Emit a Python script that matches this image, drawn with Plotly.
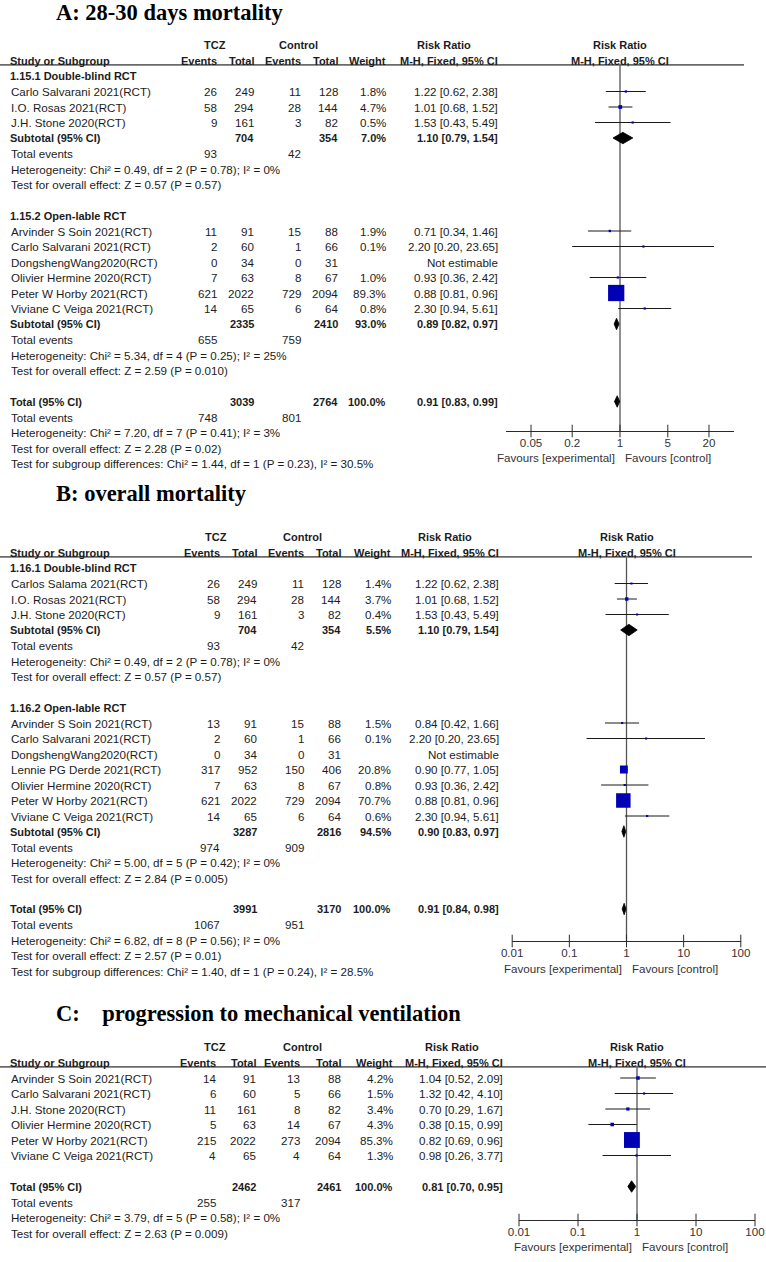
import math
import plotly.graph_objects as go

W, H = 766, 1262
SANS = "Liberation Sans, Arial, sans-serif"
SERIF = "Liberation Serif, Times New Roman, serif"
TXT = "#1c1c1c"
AXC = "#2a2a2a"
BLUE = "#0000b4"
SP = 15.5
FS = 11.6
FSB = 11.0

# ---------------- DATA ----------------
# Panel A: 28-30 days mortality
A_title = "A: 28-30 days mortality"
A_groups = ["1.15.1 Double-blind RCT", "1.15.2 Open-lable RCT"]
A_group_of = [0, 0, 0, 1, 1, 1, 1, 1, 1]
A_names = ["Carlo Salvarani 2021(RCT)", "I.O. Rosas 2021(RCT)", "J.H. Stone 2020(RCT)",
           "Arvinder S Soin 2021(RCT)", "Carlo Salvarani 2021(RCT)", "DongshengWang2020(RCT)",
           "Olivier Hermine 2020(RCT)", "Peter W Horby 2021(RCT)", "Viviane C Veiga 2021(RCT)"]
A_tcz_ev = [26, 58, 9, 11, 2, 0, 7, 621, 14]
A_tcz_tot = [249, 294, 161, 91, 60, 34, 63, 2022, 65]
A_ctl_ev = [11, 28, 3, 15, 1, 0, 8, 729, 6]
A_ctl_tot = [128, 144, 82, 88, 66, 31, 67, 2094, 64]
A_weight = [1.8, 4.7, 0.5, 1.9, 0.1, None, 1.0, 89.3, 0.8]
A_rr = [1.22, 1.01, 1.53, 0.71, 2.20, None, 0.93, 0.88, 2.30]
A_lo = [0.62, 0.68, 0.43, 0.34, 0.20, None, 0.36, 0.81, 0.94]
A_hi = [2.38, 1.52, 5.49, 1.46, 23.65, None, 2.42, 0.96, 5.61]
A_sub_tcz_tot = [704, 2335]
A_sub_ctl_tot = [354, 2410]
A_sub_weight = [7.0, 93.0]
A_sub_rr = [1.10, 0.89]
A_sub_lo = [0.79, 0.82]
A_sub_hi = [1.54, 0.97]
A_sub_tcz_ev = [93, 655]
A_sub_ctl_ev = [42, 759]
A_sub_het = ["Heterogeneity: Chi² = 0.49, df = 2 (P = 0.78); I² = 0%",
             "Heterogeneity: Chi² = 5.34, df = 4 (P = 0.25); I² = 25%"]
A_sub_test = ["Test for overall effect: Z = 0.57 (P = 0.57)",
              "Test for overall effect: Z = 2.59 (P = 0.010)"]
A_total = dict(tcz_tot=3039, ctl_tot=2764, weight=100.0, rr=0.91, lo=0.83, hi=0.99,
               tcz_ev=748, ctl_ev=801)
A_total_het = "Heterogeneity: Chi² = 7.20, df = 7 (P = 0.41); I² = 3%"
A_total_test = "Test for overall effect: Z = 2.28 (P = 0.02)"
A_subdiff = "Test for subgroup differences: Chi² = 1.44, df = 1 (P = 0.23), I² = 30.5%"
A_ticks = [0.05, 0.2, 1, 5, 20]
A_ticklabels = ["0.05", "0.2", "1", "5", "20"]

# Panel B: overall mortality
B_title = "B: overall mortality"
B_groups = ["1.16.1 Double-blind RCT", "1.16.2 Open-lable RCT"]
B_group_of = [0, 0, 0, 1, 1, 1, 1, 1, 1, 1]
B_names = ["Carlos Salama 2021(RCT)", "I.O. Rosas 2021(RCT)", "J.H. Stone 2020(RCT)",
           "Arvinder S Soin 2021(RCT)", "Carlo Salvarani 2021(RCT)", "DongshengWang2020(RCT)",
           "Lennie PG Derde 2021(RCT)", "Olivier Hermine 2020(RCT)", "Peter W Horby 2021(RCT)",
           "Viviane C Veiga 2021(RCT)"]
B_tcz_ev = [26, 58, 9, 13, 2, 0, 317, 7, 621, 14]
B_tcz_tot = [249, 294, 161, 91, 60, 34, 952, 63, 2022, 65]
B_ctl_ev = [11, 28, 3, 15, 1, 0, 150, 8, 729, 6]
B_ctl_tot = [128, 144, 82, 88, 66, 31, 406, 67, 2094, 64]
B_weight = [1.4, 3.7, 0.4, 1.5, 0.1, None, 20.8, 0.8, 70.7, 0.6]
B_rr = [1.22, 1.01, 1.53, 0.84, 2.20, None, 0.90, 0.93, 0.88, 2.30]
B_lo = [0.62, 0.68, 0.43, 0.42, 0.20, None, 0.77, 0.36, 0.81, 0.94]
B_hi = [2.38, 1.52, 5.49, 1.66, 23.65, None, 1.05, 2.42, 0.96, 5.61]
B_sub_tcz_tot = [704, 3287]
B_sub_ctl_tot = [354, 2816]
B_sub_weight = [5.5, 94.5]
B_sub_rr = [1.10, 0.90]
B_sub_lo = [0.79, 0.83]
B_sub_hi = [1.54, 0.97]
B_sub_tcz_ev = [93, 974]
B_sub_ctl_ev = [42, 909]
B_sub_het = ["Heterogeneity: Chi² = 0.49, df = 2 (P = 0.78); I² = 0%",
             "Heterogeneity: Chi² = 5.00, df = 5 (P = 0.42); I² = 0%"]
B_sub_test = ["Test for overall effect: Z = 0.57 (P = 0.57)",
              "Test for overall effect: Z = 2.84 (P = 0.005)"]
B_total = dict(tcz_tot=3991, ctl_tot=3170, weight=100.0, rr=0.91, lo=0.84, hi=0.98,
               tcz_ev=1067, ctl_ev=951)
B_total_het = "Heterogeneity: Chi² = 6.82, df = 8 (P = 0.56); I² = 0%"
B_total_test = "Test for overall effect: Z = 2.57 (P = 0.01)"
B_subdiff = "Test for subgroup differences: Chi² = 1.40, df = 1 (P = 0.24), I² = 28.5%"
B_ticks = [0.01, 0.1, 1, 10, 100]
B_ticklabels = ["0.01", "0.1", "1", "10", "100"]

# Panel C: progression to mechanical ventilation
C_title = "C:&nbsp;&nbsp;&nbsp;&nbsp;progression to mechanical ventilation"
C_names = ["Arvinder S Soin 2021(RCT)", "Carlo Salvarani 2021(RCT)", "J.H. Stone 2020(RCT)",
           "Olivier Hermine 2020(RCT)", "Peter W Horby 2021(RCT)", "Viviane C Veiga 2021(RCT)"]
C_tcz_ev = [14, 6, 11, 5, 215, 4]
C_tcz_tot = [91, 60, 161, 63, 2022, 65]
C_ctl_ev = [13, 5, 8, 14, 273, 4]
C_ctl_tot = [88, 66, 82, 67, 2094, 64]
C_weight = [4.2, 1.5, 3.4, 4.3, 85.3, 1.3]
C_rr = [1.04, 1.32, 0.70, 0.38, 0.82, 0.98]
C_lo = [0.52, 0.42, 0.29, 0.15, 0.69, 0.26]
C_hi = [2.09, 4.10, 1.67, 0.99, 0.96, 3.77]
C_total = dict(tcz_tot=2462, ctl_tot=2461, weight=100.0, rr=0.81, lo=0.70, hi=0.95,
               tcz_ev=255, ctl_ev=317)
C_total_het = "Heterogeneity: Chi² = 3.79, df = 5 (P = 0.58); I² = 0%"
C_total_test = "Test for overall effect: Z = 2.63 (P = 0.009)"
C_ticks = [0.01, 0.1, 1, 10, 100]
C_ticklabels = ["0.01", "0.1", "1", "10", "100"]

# ---------------- LAYOUT (pixel geometry) ----------------
PANELS = [
    dict(top=0, bottom=478, row0=76, cols=[219, 256, 303, 340, 388, 500], title_px=12,
         axis_px=431, fav_px=457, xdom=(506, 734), xrange=(-1.667, 1.667), line_x1=744,
         tcz_c=215, ctl_c=298, rr_c=444),
    dict(top=478, bottom=992, row0=568, cols=[222, 259, 306, 343, 393, 501], title_px=493,
         axis_px=941, fav_px=968, xdom=(512.2, 740.8), xrange=(-2, 2), line_x1=752,
         tcz_c=216, ctl_c=302, rr_c=445),
    dict(top=992, bottom=1262, row0=1078, cols=[218, 258, 302, 343, 395, 505], title_px=1013,
         axis_px=1220, fav_px=1246, xdom=(519, 755), xrange=(-2, 2), line_x1=766,
         tcz_c=215, ctl_c=302, rr_c=452),
]

fig = go.Figure()
annotations = []
shapes = []
layout_axes = {}


def fmt_rr(r, l, h):
    return f"{r:.2f} [{l:.2f}, {h:.2f}]"


def add_panel(idx, P, D):
    xa = "x" if idx == 1 else f"x{idx}"
    ya = "y" if idx == 1 else f"y{idx}"
    xkey = "xaxis" if idx == 1 else f"xaxis{idx}"
    ykey = "yaxis" if idx == 1 else f"yaxis{idx}"

    def ky(px):
        return (px - P["row0"]) / SP

    layout_axes[ykey] = dict(domain=[1 - P["bottom"] / H, 1 - P["top"] / H],
                             range=[ky(P["bottom"]), ky(P["top"])],
                             visible=False, fixedrange=True)
    layout_axes[xkey] = dict(type="log", domain=[P["xdom"][0] / W, P["xdom"][1] / W],
                             range=list(P["xrange"]), anchor="free",
                             position=1 - P["axis_px"] / H,
                             showline=True, linecolor=AXC, linewidth=1, ticks="",
                             tickvals=D["ticks"], ticktext=D["ticklabels"],
                             tickfont=dict(family=SANS, size=FS, color="#333333"),
                             ticklabelstandoff=1, automargin=False,
                             showgrid=False, zeroline=False, fixedrange=True)

    def txt(xpx, k, s, anchor="left", bold=False, size=None, color=TXT, family=SANS):
        if size is None:
            size = FSB if bold else FS
        annotations.append(dict(x=xpx / W, xref="paper", y=k, yref=ya, text=(f"<b>{s}</b>" if bold else s),
                                showarrow=False, xanchor=anchor, yanchor="middle",
                                font=dict(family=family, size=size, color=color)))

    cols = P["cols"]
    # title
    txt(54, ky(P["title_px"]), D["title"], bold=True, size=22.5, color="#000000", family=SERIF)
    # headers
    txt(P["tcz_c"], -2, "TCZ", "center", True)
    txt(P["ctl_c"], -2, "Control", "center", True)
    txt(P["rr_c"], -2, "Risk Ratio", "center", True)
    fc = P["xdom"][0] + (P["xdom"][1] - P["xdom"][0]) * (0 - P["xrange"][0]) / (P["xrange"][1] - P["xrange"][0])
    txt(fc, -2, "Risk Ratio", "center", True)
    txt(8, -1, "Study or Subgroup", "left", True)
    for c, s in zip(cols, ["Events", "Total", "Events", "Total", "Weight", "M-H, Fixed, 95% CI"]):
        txt(c, -1, s, "right", True)
    txt(fc, -1, "M-H, Fixed, 95% CI", "center", True)
    k_line = -0.72
    shapes.append(dict(type="line", xref="paper", yref=ya, x0=0, x1=P["line_x1"] / W,
                       y0=k_line, y1=k_line, line=dict(color="#6a6a6a", width=1.6)))

    ci_x, ci_y, sq_x, sq_y, sq_s = [], [], [], [], []
    diamonds = []

    def study_row(k, i):
        txt(9, k, D["names"][i])
        txt(cols[0], k, str(D["tcz_ev"][i]), "right")
        txt(cols[1], k, str(D["tcz_tot"][i]), "right")
        txt(cols[2], k, str(D["ctl_ev"][i]), "right")
        txt(cols[3], k, str(D["ctl_tot"][i]), "right")
        if D["rr"][i] is None:
            txt(cols[5], k, "Not estimable", "right")
        else:
            txt(cols[4], k, f"{D['weight'][i]:.1f}%", "right")
            txt(cols[5], k, fmt_rr(D["rr"][i], D["lo"][i], D["hi"][i]), "right")
            ci_x.extend([D["lo"][i], D["hi"][i], None])
            ci_y.extend([k, k, None])
            sq_x.append(D["rr"][i])
            sq_y.append(k)
            sq_s.append(max(2.2, 1.72 * math.sqrt(D["weight"][i])))

    def summary_rows(k, label, tt, ct, w, r, l, h, te1, te2, het, test):
        txt(8, k, label, "left", True)
        txt(cols[1], k, str(tt), "right", True)
        txt(cols[3], k, str(ct), "right", True)
        txt(cols[4], k, f"{w:.1f}%", "right", True)
        txt(cols[5], k, fmt_rr(r, l, h), "right", True)
        diamonds.append((r, l, h, k))
        txt(9, k + 1, "Total events")
        txt(cols[0], k + 1, str(te1), "right")
        txt(cols[2], k + 1, str(te2), "right")
        txt(9, k + 2, het)
        txt(9, k + 3, test)

    k = 0
    n = len(D["names"])
    if D.get("groups"):
        for g, glabel in enumerate(D["groups"]):
            txt(8, k, glabel, "left", True)
            k += 1
            for i in range(n):
                if D["group_of"][i] == g:
                    study_row(k, i)
                    k += 1
            summary_rows(k, "Subtotal (95% CI)", D["sub_tcz_tot"][g], D["sub_ctl_tot"][g],
                         D["sub_weight"][g], D["sub_rr"][g], D["sub_lo"][g], D["sub_hi"][g],
                         D["sub_tcz_ev"][g], D["sub_ctl_ev"][g], D["sub_het"][g], D["sub_test"][g])
            k += 5
    else:
        for i in range(n):
            study_row(k, i)
            k += 1
        k += 1
    T = D["total"]
    summary_rows(k, "Total (95% CI)", T["tcz_tot"], T["ctl_tot"], T["weight"], T["rr"], T["lo"], T["hi"],
                 T["tcz_ev"], T["ctl_ev"], D["total_het"], D["total_test"])
    if D.get("subdiff"):
        txt(9, k + 4, D["subdiff"])

    k_axis = ky(P["axis_px"])
    # vertical line of no effect
    fig.add_trace(go.Scatter(x=[1, 1], y=[k_line, k_axis], mode="lines", xaxis=xa, yaxis=ya,
                             line=dict(color="#555555", width=1.3), hoverinfo="skip"))
    # CI lines
    fig.add_trace(go.Scatter(x=ci_x, y=ci_y, mode="lines", xaxis=xa, yaxis=ya,
                             line=dict(color="#1a1a1a", width=1), hoverinfo="skip"))
    # weight squares
    fig.add_trace(go.Scatter(x=sq_x, y=sq_y, mode="markers", xaxis=xa, yaxis=ya,
                             marker=dict(symbol="square", size=sq_s, color=BLUE, opacity=1,
                                         line=dict(width=0)),
                             hoverinfo="skip"))
    # diamonds
    hh = 0.37
    for r, l, h, kk in diamonds:
        fig.add_trace(go.Scatter(x=[l, r, h, r, l], y=[kk, kk - hh, kk, kk + hh, kk], mode="lines",
                                 fill="toself", fillcolor="#000000", xaxis=xa, yaxis=ya,
                                 line=dict(color="#000000", width=0.8), hoverinfo="skip"))
    # crossing tick marks
    fig.add_trace(go.Scatter(x=D["ticks"], y=[k_axis] * len(D["ticks"]), mode="markers", xaxis=xa, yaxis=ya,
                             marker=dict(symbol="line-ns", size=9, line=dict(color=AXC, width=1)),
                             hoverinfo="skip", cliponaxis=False))
    # favours labels
    kf = ky(P["fav_px"])
    annotations.append(dict(x=0, xref=xa, y=kf, yref=ya, text="Favours [experimental]", showarrow=False,
                            xanchor="right", yanchor="middle", xshift=-3,
                            font=dict(family=SANS, size=FS, color="#333333")))
    annotations.append(dict(x=0, xref=xa, y=kf, yref=ya, text="Favours [control]", showarrow=False,
                            xanchor="left", yanchor="middle", xshift=3,
                            font=dict(family=SANS, size=FS, color="#333333")))


DA = dict(title=A_title, groups=A_groups, group_of=A_group_of, names=A_names, tcz_ev=A_tcz_ev,
          tcz_tot=A_tcz_tot, ctl_ev=A_ctl_ev, ctl_tot=A_ctl_tot, weight=A_weight, rr=A_rr, lo=A_lo, hi=A_hi,
          sub_tcz_tot=A_sub_tcz_tot, sub_ctl_tot=A_sub_ctl_tot, sub_weight=A_sub_weight, sub_rr=A_sub_rr,
          sub_lo=A_sub_lo, sub_hi=A_sub_hi, sub_tcz_ev=A_sub_tcz_ev, sub_ctl_ev=A_sub_ctl_ev,
          sub_het=A_sub_het, sub_test=A_sub_test, total=A_total, total_het=A_total_het,
          total_test=A_total_test, subdiff=A_subdiff, ticks=A_ticks, ticklabels=A_ticklabels)
DB = dict(title=B_title, groups=B_groups, group_of=B_group_of, names=B_names, tcz_ev=B_tcz_ev,
          tcz_tot=B_tcz_tot, ctl_ev=B_ctl_ev, ctl_tot=B_ctl_tot, weight=B_weight, rr=B_rr, lo=B_lo, hi=B_hi,
          sub_tcz_tot=B_sub_tcz_tot, sub_ctl_tot=B_sub_ctl_tot, sub_weight=B_sub_weight, sub_rr=B_sub_rr,
          sub_lo=B_sub_lo, sub_hi=B_sub_hi, sub_tcz_ev=B_sub_tcz_ev, sub_ctl_ev=B_sub_ctl_ev,
          sub_het=B_sub_het, sub_test=B_sub_test, total=B_total, total_het=B_total_het,
          total_test=B_total_test, subdiff=B_subdiff, ticks=B_ticks, ticklabels=B_ticklabels)
DC = dict(title=C_title, names=C_names, tcz_ev=C_tcz_ev, tcz_tot=C_tcz_tot, ctl_ev=C_ctl_ev,
          ctl_tot=C_ctl_tot, weight=C_weight, rr=C_rr, lo=C_lo, hi=C_hi, total=C_total,
          total_het=C_total_het, total_test=C_total_test, ticks=C_ticks, ticklabels=C_ticklabels)

for i, (P, D) in enumerate(zip(PANELS, [DA, DB, DC]), start=1):
    add_panel(i, P, D)

fig.update_layout(width=W, height=H, margin=dict(l=0, r=0, t=0, b=0, pad=0, autoexpand=False),
                  showlegend=False, paper_bgcolor="white", plot_bgcolor="rgba(0,0,0,0)",
                  annotations=annotations, shapes=shapes, **layout_axes)

fig.write_html("out.html", config={"displayModeBar": False},
               post_script="document.body.style.margin='0';document.body.style.padding='0';"
                           "document.body.style.overflow='hidden';")
